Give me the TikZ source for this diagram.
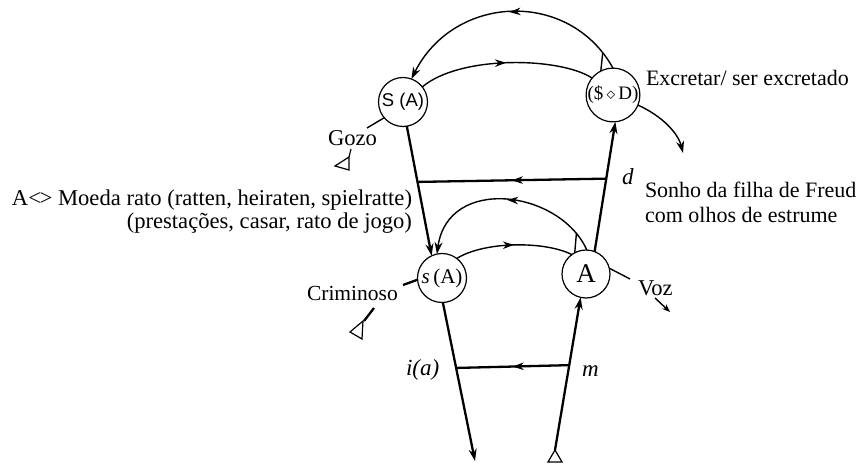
\documentclass[tikz,border=0pt]{standalone}
\usepackage{fontspec}
\setmainfont{Liberation Serif}
\newfontfamily\circsans{Liberation Sans}
\usetikzlibrary{arrows.meta,decorations.markings}
\begin{document}
\begin{tikzpicture}[x=1pt,y=-1pt,
  every node/.style={inner sep=0pt, outer sep=0pt},
  place/.style={circle, draw, line width=1.2pt, minimum size=49pt, inner sep=0pt},
  thickline/.style={line width=2.3pt},
  arcline/.style={line width=1.4pt},
  tip/.style={-{Stealth[length=12pt,width=8pt]}},
  smalltip/.style={-{Stealth[length=8pt,width=6pt]}},
  midarrow/.style={postaction={decorate}, decoration={markings,
     mark=at position #1 with {\arrow{Stealth[length=11pt,width=7.5pt]}}}},
  midarrow/.default=0.5,
  lbl/.style={font=\fontsize{22.6}{26}\selectfont},
  rlbl/.style={font=\fontsize{22}{26}\selectfont},
  ilbl/.style={font=\fontsize{23}{26}\selectfont\itshape},
]
\useasboundingbox (0,0) rectangle (863,465);
\fill[white] (0,0) rectangle (863,465);

% places
\node[place] (SA) at (403,102) {\circsans\fontsize{18.5}{18}\selectfont S (A)};
\node[place] (SD) at (613,95) {\fontsize{19}{19}\selectfont (\$\,$\diamond$\,D)};
\node[place] (sA) at (442,278) {\fontsize{21}{21}\selectfont \textit{s}\,(A)};
\node[place, minimum size=48pt] (A) at (586,274) {\fontsize{27}{27}\selectfont A};

\coordinate (bot) at (475,461);
\coordinate (tb) at (555,450);
\coordinate (ex) at (683,153);
\coordinate (gz) at (367,128);
\coordinate (cr) at (403,285);
\coordinate (vz) at (630,279);

% main straight lines
\draw[thickline, tip] (SA.-81) -- coordinate[pos=0.43] (L1) (sA.115);
\draw[thickline, tip] (A.69) -- coordinate[pos=0.562] (R1) (SD.-85);
\draw[thickline, midarrow] (R1) -- (L1);
\draw[thickline, tip] (sA.-88) -- coordinate[pos=0.413] (L2) (bot);
\draw[thickline, tip] (tb) -- coordinate[pos=0.556] (R2) (A.-103);
\draw[thickline, midarrow] (R2) -- (L2);
\draw[line width=1.2pt] (tb) -- (548,462) -- (562,462) -- cycle;

% arcs
\draw[arcline, tip, midarrow] (SD.90) .. controls (569,-11) and (454,-6) .. coordinate[pos=0.07] (tk1) (SA.70);
\draw[arcline, midarrow] (SA.38) .. controls (460,55) and (560,57) .. (SD.141);
\draw[arcline, tip, midarrow] (A.88) .. controls (560,190) and (448,175) .. coordinate[pos=0.1] (tk2) (sA.102);
\draw[arcline, midarrow] (sA.53) .. controls (485,241) and (545,241) .. (A.126);
\draw[arcline] (tk1) -- (SD.117);
\draw[arcline] (tk2) -- (A.118);
\draw[arcline, tip] (SD.-22) .. controls (662,116) and (678,133) .. (ex);

% small marks
\draw[arcline] (SA.-140) -- (gz);
\draw[line width=1.2pt] (335,166) -- (349,157) -- (349,170) -- cycle;
\draw[line width=1.2pt] (349,157) -- (351,149);
\draw[thickline] (sA.184) -- (cr);
\draw[line width=1.2pt] (350,332) -- (363,321) -- (362,339) -- cycle;
\draw[thickline] (364,321) -- (374,308);
\draw[arcline] (A.14) -- (vz);
\draw[arcline, smalltip] (655,298) -- (670,312);

% labels
\node[rlbl, anchor=base west] (t1) at (646,86) {Excretar/ ser excretado};
\node[rlbl, anchor=base west] (t2) at (645,198) {Sonho da filha de Freud};
\node[rlbl, anchor=base west] (t3) at (645,223) {com olhos de estrume};
\node[lbl, anchor=base east] (t4) at (412,206) {A<\kern-0.06em> Moeda rato (ratten, heiraten, spielratte)};
\node[lbl, anchor=base east] (t5) at (412,229) {(prestações, casar, rato de jogo)};
\node[lbl, anchor=base west] (t6) at (328,146) {Gozo};
\node[lbl, font=\fontsize{21.5}{25}\selectfont, anchor=base west] (t7) at (307,301) {Criminoso};
\node[lbl, anchor=base west] (t8) at (638,296) {Voz};
\node[ilbl, anchor=base west] (t9) at (406,376) {i(a)};
\node[ilbl, anchor=base west] (t10) at (582,377) {m};
\node[ilbl, anchor=base west] (t11) at (622,185) {d};
\end{tikzpicture}
\end{document}
